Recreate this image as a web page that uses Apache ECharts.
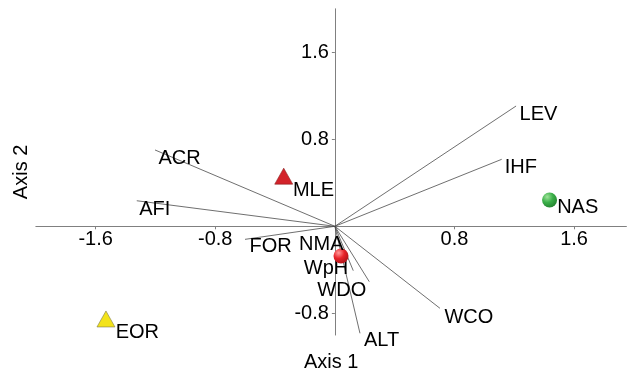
<!DOCTYPE html>
<html>
<head>
<meta charset="utf-8">
<script src="https://cdn.jsdelivr.net/npm/echarts@6/dist/echarts.min.js"></script>
<style>
  html, body { margin: 0; padding: 0; background: #fff; }
  #chart { width: 627px; height: 372px; }
</style>
</head>
<body>
<div id="chart"></div>
<script>
// Ordination biplot: sampling sites plus environmental variable vectors
const siteNames = ['MLE', 'EOR', 'NAS', 'NMA'];
const siteAxis1 = [-0.342, -1.531, 1.436, 0.041];
const siteAxis2 = [0.461, -0.852, 0.242, -0.273];

const vectorNames = ['LEV', 'IHF', 'ACR', 'AFI', 'FOR', 'WpH', 'WDO', 'ALT', 'WCO'];
const vectorAxis1 = [1.212, 1.116, -1.203, -1.325, -0.601, 0.123, 0.230, 0.168, 0.703];
const vectorAxis2 = [1.106, 0.616, 0.702, 0.235, -0.120, -0.408, -0.509, -0.984, -0.754];

const axis1Ticks = [-1.6, -0.8, 0.8, 1.6];
const axis2Ticks = [1.6, 0.8, -0.8];

const FONT = '"Liberation Sans", Arial, sans-serif';
const FS = 20;

// plot area and the pixel shift that puts each axis through the origin
const GRID = { left: 35.85, right: 0.6, top: 8.8, bottom: 36.95 };
const X_MIN = -2, X_MAX = 1.95, Y_MIN = -1, Y_MAX = 2;
const plotW = 627 - GRID.left - GRID.right;
const plotH = 372 - GRID.top - GRID.bottom;
const xShiftUp = plotH * (0 - Y_MIN) / (Y_MAX - Y_MIN);
const yShiftRight = plotW * (0 - X_MIN) / (X_MAX - X_MIN);

function ball(light, mid, dark) {
  return {
    type: 'radial', x: 0.35, y: 0.3, r: 0.8,
    colorStops: [
      { offset: 0, color: light },
      { offset: 0.45, color: mid },
      { offset: 1, color: dark }
    ]
  };
}

// marker look for each site
const siteLook = {
  MLE: { symbol: 'triangle', size: [18, 16], color: '#d3232a', border: '#8a1c1c' },
  EOR: { symbol: 'triangle', size: [18, 16], color: '#f3e31a', border: '#7d7a4a' },
  NAS: { symbol: 'circle', size: 15, color: ball('#9fe39a', '#3cb04a', '#1f7a2a'), border: 'rgba(0,0,0,0)' },
  NMA: { symbol: 'circle', size: 15, color: ball('#ff9a9a', '#e8232a', '#a01015'), border: 'rgba(0,0,0,0)' }
};

// label anchoring relative to each point
const labelPlace = {
  LEV: ['left', 3.5, 8.5], IHF: ['left', 3, 8], ACR: ['left', 3.5, 9], AFI: ['left', 2.5, 9],
  FOR: ['left', 4.5, 7.4], WCO: ['left', 4.5, 9], ALT: ['left', 4, 7.5],
  WDO: ['right', -3, 9], WpH: ['right', -5, -1.7],
  MLE: ['left', 9.2, 14], NAS: ['left', 7.6, 7.8], EOR: ['left', 9.7, 13.2], NMA: ['right', 2.5, -11.8]
};

function labelFor(name) {
  const p = labelPlace[name];
  return {
    show: true, position: 'inside', align: p[0], verticalAlign: 'middle',
    offset: [p[1], p[2]], formatter: name,
    color: '#000', fontSize: FS, fontFamily: FONT,
    textBorderWidth: 0, textBorderColor: 'transparent', opacity: 1
  };
}

const vectorLines = vectorNames.map((n, i) => ({
  coords: [[0, 0], [vectorAxis1[i], vectorAxis2[i]]]
}));

const vectorTips = vectorNames.map((n, i) => ({
  name: n, value: [vectorAxis1[i], vectorAxis2[i]], label: labelFor(n)
}));

const sitePoints = siteNames.map((n, i) => {
  const look = siteLook[n];
  return {
    name: n,
    value: [siteAxis1[i], siteAxis2[i]],
    symbol: look.symbol,
    symbolSize: look.size,
    itemStyle: { color: look.color, borderColor: look.border, borderWidth: 0.6, opacity: 1 },
    label: labelFor(n)
  };
});

const axisTextStyle = { color: '#000', fontSize: FS, fontFamily: FONT };

const option = {
  animation: false,
  backgroundColor: '#fff',
  grid: { ...GRID, containLabel: false, outerBoundsMode: 'none' },
  xAxis: {
    type: 'value', min: X_MIN, max: X_MAX,
    position: 'bottom', offset: -xShiftUp,
    name: 'Axis 1', nameLocation: 'middle', nameGap: 126,
    nameTextStyle: axisTextStyle,
    axisLine: { onZero: false, lineStyle: { color: '#808080', width: 1 } },
    axisTick: { show: true, length: 3, customValues: axis1Ticks, lineStyle: { color: '#808080' } },
    axisLabel: { customValues: axis1Ticks, margin: 3, ...axisTextStyle, formatter: v => String(v) },
    splitLine: { show: false }
  },
  yAxis: {
    type: 'value', min: Y_MIN, max: Y_MAX,
    position: 'left', offset: -yShiftRight,
    name: 'Axis 2', nameLocation: 'middle', nameGap: 303,
    nameTextStyle: axisTextStyle,
    axisLine: { onZero: false, lineStyle: { color: '#808080', width: 1 } },
    axisTick: { show: true, length: 3, customValues: axis2Ticks, lineStyle: { color: '#808080' } },
    axisLabel: { customValues: axis2Ticks, margin: 6, ...axisTextStyle, formatter: v => String(v) },
    splitLine: { show: false }
  },
  series: [
    {
      type: 'lines', coordinateSystem: 'cartesian2d', silent: true,
      lineStyle: { color: '#4a4a4a', width: 0.8, opacity: 1 },
      data: vectorLines
    },
    {
      type: 'scatter', symbolSize: 0, silent: true,
      itemStyle: { opacity: 1 },
      data: vectorTips
    },
    {
      type: 'scatter', silent: true, z: 5,
      data: sitePoints
    }
  ]
};

const chart = echarts.init(document.getElementById('chart'), null, { renderer: 'canvas' });
chart.setOption(option);
</script>
</body>
</html>
